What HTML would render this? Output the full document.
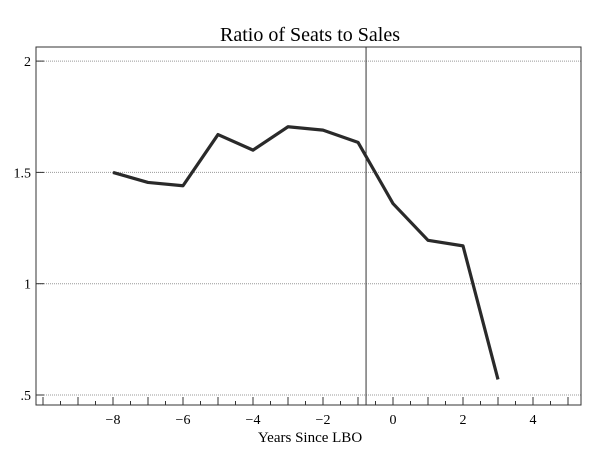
<!DOCTYPE html>
<html><head><meta charset="utf-8"><style>body{margin:0;background:#fff}svg{display:block;font-family:"Liberation Serif",serif}</style></head>
<body>
<svg width="600" height="458">
<text x="310" y="41" text-anchor="middle" font-size="20">Ratio of Seats to Sales</text>
<g id="grid"></g>
<rect x="36" y="47" width="545" height="358" fill="none" stroke="#333" stroke-width="1"/>
<g id="axes"></g>
<path id="line" fill="none" stroke="#2a2a2a" stroke-width="3.2" stroke-linejoin="round"/>
<text x="310" y="442" text-anchor="middle" font-size="15">Years Since LBO</text>
</svg>
<script>
const years=[-8,-7,-6,-5,-4,-3,-2,-1,0,1,2,3];
const ratios=[1.5,1.455,1.44,1.67,1.6,1.705,1.69,1.635,1.36,1.195,1.17,0.57];
const xTicks=[-8,-6,-4,-2,0,2,4];
const yTicks=[0.5,1,1.5,2];
const yLabels=[".5","1","1.5","2"];
const lboLine=-0.77;
const X=v=>393+35*v, Y=v=>395-(v-0.5)*222.6;
const ns="http://www.w3.org/2000/svg";
const g=document.getElementById('grid'),a=document.getElementById('axes');
function mk(p,t,at){const e=document.createElementNS(ns,t);for(const k in at)e.setAttribute(k,at[k]);p.appendChild(e);return e;}
yTicks.forEach((v,i)=>{
 const l=mk(g,'line',{x1:36,x2:581,y1:Y(v),y2:Y(v),stroke:'#999','stroke-width':1,'stroke-dasharray':'1,1'});
 
 
 const t=mk(a,'line',{x1:36,x2:44,y1:Y(v),y2:Y(v),stroke:'#333'});
 
 
 const tx=mk(a,'text',{x:31,y:Y(v)+5,'text-anchor':'end','font-size':14});
 tx.textContent=yLabels[i];
 
 
});
for(let v=-10;v<=5;v+=0.5){const px=X(v);if(px<37||px>580)continue;
 const major=Number.isInteger(v);
 const t=mk(a,'line',{x1:px,x2:px,y1:405,y2:405-(major?8:4),stroke:'#333'});
 
 }
xTicks.forEach(v=>{const tx=mk(a,'text',{x:X(v),y:424,'text-anchor':'middle','font-size':14});
 tx.textContent=v<0?'\u2212'+(-v):String(v);
 
 });
const vl=mk(a,'line',{x1:X(lboLine),x2:X(lboLine),y1:47,y2:405,stroke:'#333','stroke-width':1});


document.getElementById('line').setAttribute('d',years.map((v,i)=>(i?'L':'M')+X(v)+','+Y(ratios[i])).join(''));
</script>
</body></html>
